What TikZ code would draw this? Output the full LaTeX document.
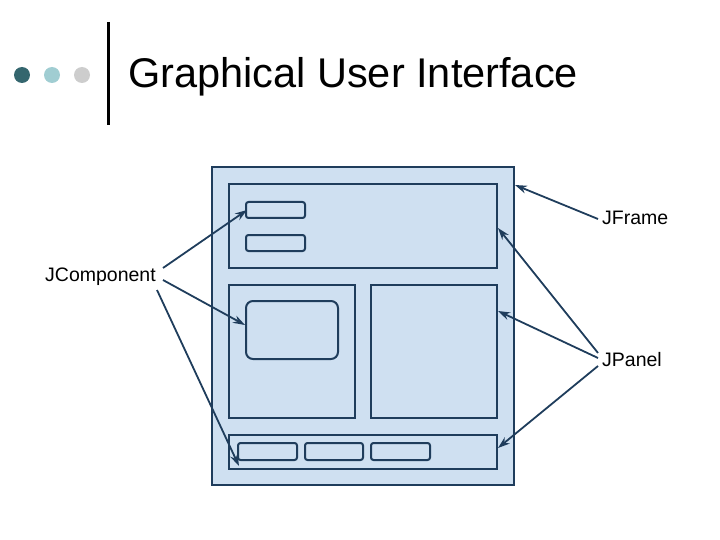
\documentclass[tikz,border=0pt]{standalone}
\usepackage{fontspec}
\setmainfont{Liberation Sans}
\usetikzlibrary{arrows.meta}
\definecolor{dk}{HTML}{1F3D5C}
\definecolor{fillb}{HTML}{CFE0F1}
\begin{document}
\begin{tikzpicture}[x=1pt,y=-1pt,
 box/.style={draw=dk,fill=fillb,line width=2pt},
 btn/.style={draw=dk,fill=fillb,line width=2pt,rounded corners=2.5pt},
 arr/.style={draw=dk,line width=1.8pt,-{Stealth[length=12pt,width=8pt]}},
 lab/.style={font=\fontsize{19.5}{22}\selectfont,inner sep=1pt}]
\useasboundingbox (0,0) rectangle (720,540);
\fill[fill={rgb,255:red,52;green,102;blue,110}] (22,75) circle (8);
\fill[fill={rgb,255:red,160;green,205;blue,210}] (52,75) circle (8);
\fill[fill={rgb,255:red,205;green,205;blue,205}] (82,75) circle (8);
\draw[line width=3pt] (108,22) -- (108,125);
\node[anchor=west,inner sep=0,font=\fontsize{41.5}{46}\selectfont] (title) at (128,77) {Graphical User Interface};
\draw[box] (212,167) rectangle (514,485);
\draw[box] (229,184) rectangle (497,268);
\draw[btn] (246,202) rectangle (305,218);
\draw[btn] (246,235) rectangle (305,251);
\draw[box] (229,285) rectangle (355,418);
\draw[btn,rounded corners=7pt] (246,301) rectangle (338,359);
\draw[box] (371,285) rectangle (497,418);
\draw[box] (229,435) rectangle (497,469);
\draw[btn] (238,443) rectangle (297,460);
\draw[btn] (305,443) rectangle (363,460);
\draw[btn] (371,443) rectangle (430,460);
\node[lab,anchor=west] (jc) at (44,277) {JComponent};
\node[lab,anchor=west] (jf) at (601,218) {JFrame};
\node[lab,anchor=west] (jp) at (601,360) {JPanel};
\coordinate (c1) at (247,210); \coordinate (c2) at (245,325); \coordinate (c3) at (239,466);
\coordinate (f1) at (515,185);
\coordinate (p1) at (498,228); \coordinate (p2) at (498,311); \coordinate (p3) at (498,448);
\draw[arr] (163,268) -- (c1);
\draw[arr] (163,280) -- (c2);
\draw[arr] (157,290) -- (c3);
\draw[arr] (598,219) -- (f1);
\draw[arr] (598,353) -- (p1);
\draw[arr] (598,358) -- (p2);
\draw[arr] (598,366) -- (p3);
\end{tikzpicture}
\end{document}
